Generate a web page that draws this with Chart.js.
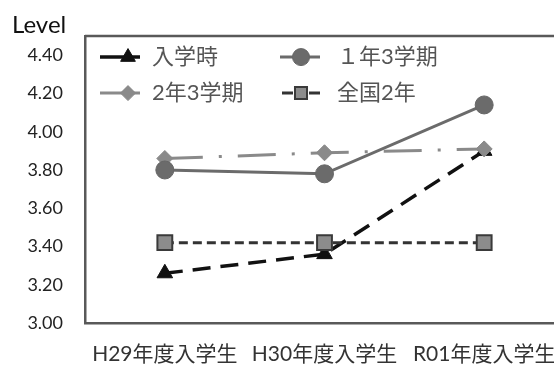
<!DOCTYPE html>
<html>
<head>
<meta charset="utf-8">
<script src="https://cdn.jsdelivr.net/npm/chart.js@4/dist/chart.umd.min.js"></script>
<style>
  html, body { margin: 0; padding: 0; background: #fff; overflow: hidden; }
  #wrap { width: 554px; height: 365px; overflow: hidden; position: relative; }
  canvas { display: block; }
</style>
</head>
<body>
<div id="wrap"><canvas id="chart" width="580" height="365"></canvas></div>
<script>
// Cohorts on the x axis
const categories = ['H29年度入学生', 'H30年度入学生', 'R01年度入学生'];
// Series names
const seriesNames = ['入学時', '１年3学期', '2年3学期', '全国2年'];
// Average level per cohort
const entryValues    = [3.26, 3.36, 3.90];
const term1Values    = [3.80, 3.78, 4.14];
const term2Values    = [3.86, 3.89, 3.91];
const nationalValues = [3.42, 3.42, 3.42];
// Y axis range
const yMin = 3.0;
const yMax = 4.5;
const yStep = 0.2;

const latin = "Lato, 'Noto Sans CJK JP', sans-serif";
const cjk = "Lato, 'Noto Sans CJK JP', sans-serif";

const datasets = [
  {
    label: seriesNames[0], data: entryValues, order: 3,
    borderColor: '#111', backgroundColor: '#111', borderWidth: 3.5,
    borderDash: [18, 10], pointStyle: 'triangle', pointRadius: 9,
    pointBorderWidth: 1, pointBorderColor: '#111', pointBackgroundColor: '#111'
  },
  {
    label: seriesNames[1], data: term1Values, order: 1,
    borderColor: '#6b6b6b', backgroundColor: '#6b6b6b', borderWidth: 3,
    pointStyle: 'circle', pointRadius: 9, pointBorderWidth: 1,
    pointBorderColor: '#666', pointBackgroundColor: '#6b6b6b'
  },
  {
    label: seriesNames[2], data: term2Values, order: 2,
    borderColor: '#8a8a8a', backgroundColor: '#8a8a8a', borderWidth: 3,
    borderDash: [38, 16, 3, 16], pointStyle: 'rectRot', pointRadius: 8,
    pointBorderWidth: 1, pointBorderColor: '#888', pointBackgroundColor: '#8a8a8a'
  },
  {
    label: seriesNames[3], data: nationalValues, order: 0,
    borderColor: '#333', backgroundColor: '#8c8c8c', borderWidth: 3,
    borderDash: [9, 5], pointStyle: 'rect', pointRadius: 10.5,
    pointBorderWidth: 2, pointBorderColor: '#3a3a3a', pointBackgroundColor: '#8c8c8c'
  }
];

// Frame along the top of the plot area
const frame = {
  id: 'frame',
  beforeDatasetsDraw(chart) {
    const { ctx, chartArea: a } = chart;
    ctx.save();
    ctx.strokeStyle = '#595959';
    ctx.lineWidth = 2.5;
    ctx.beginPath();
    ctx.moveTo(a.left, a.top);
    ctx.lineTo(a.right, a.top);
    ctx.lineTo(a.right, a.bottom);
    ctx.stroke();
    ctx.restore();
  }
};

// Legend drawn inside the plot area, two columns
const insideLegend = {
  id: 'insideLegend',
  afterDraw(chart) {
    const { ctx, chartArea: a } = chart;
    const cols = [15, 195];
    const textAt = [52, 57];
    const rows = [21, 57];
    const layout = [[0, 0], [1, 0], [0, 1], [1, 1]];
    const markerAt = [28, 21, 28, 21];
    ctx.save();
    chart.data.datasets.forEach((ds, i) => {
      const [c, r] = layout[i];
      const x0 = a.left + cols[c];
      const y = a.top + rows[r];
      ctx.strokeStyle = ds.borderColor;
      ctx.lineWidth = ds.borderWidth;
      ctx.beginPath();
      if (i === 3) {
        ctx.moveTo(x0 + 2, y); ctx.lineTo(x0 + 13, y);
        ctx.moveTo(x0 + 29, y); ctx.lineTo(x0 + 40, y);
      } else {
        ctx.moveTo(x0, y); ctx.lineTo(x0 + 40, y);
      }
      ctx.stroke();
      ctx.fillStyle = ds.pointBackgroundColor;
      ctx.strokeStyle = ds.pointBorderColor;
      ctx.lineWidth = ds.pointBorderWidth;
      Chart.helpers.drawPoint(ctx, {
        pointStyle: ds.pointStyle,
        radius: i === 3 ? 8.5 : ds.pointRadius - 0.5,
        borderWidth: ds.pointBorderWidth
      }, x0 + markerAt[i], y);
      ctx.fillStyle = '#555';
      ctx.font = "22px " + cjk;
      ctx.textBaseline = 'middle';
      ctx.textAlign = 'left';
      ctx.fillText(ds.label, x0 + textAt[c], y);
    });
    ctx.restore();
  }
};

new Chart(document.getElementById('chart'), {
  type: 'line',
  data: { labels: categories, datasets },
  plugins: [frame, insideLegend],
  options: {
    responsive: false,
    animation: false,
    devicePixelRatio: 1,
    layout: { padding: { left: 12, right: 16, top: 0, bottom: 0 } },
    plugins: {
      legend: { display: false },
      tooltip: { enabled: false },
      title: {
        display: true, text: 'Level', align: 'start', color: '#111',
        font: { family: latin, size: 24, weight: 'normal', lineHeight: 0.92 },
        padding: { top: 14, bottom: 0 }
      }
    },
    scales: {
      x: {
        offset: true,
        grid: { display: false, drawTicks: false },
        border: { display: true, color: '#595959', width: 2.5 },
        ticks: {
          color: '#333', padding: 19, maxRotation: 0, autoSkip: false,
          font: { family: cjk, size: 21 }
        },
        afterFit(s) { s.height = 42; }
      },
      y: {
        min: yMin, max: yMax,
        grid: { display: false, drawTicks: false },
        border: { display: true, color: '#595959', width: 2.5 },
        ticks: {
          stepSize: yStep, includeBounds: false, color: '#222', padding: 22,
          font: { family: latin, size: 18 },
          callback: v => (v > 4.41 ? '' : Number(v).toFixed(2))
        },
        afterFit(s) { s.width = 73; }
      }
    }
  }
});
</script>
</body>
</html>
